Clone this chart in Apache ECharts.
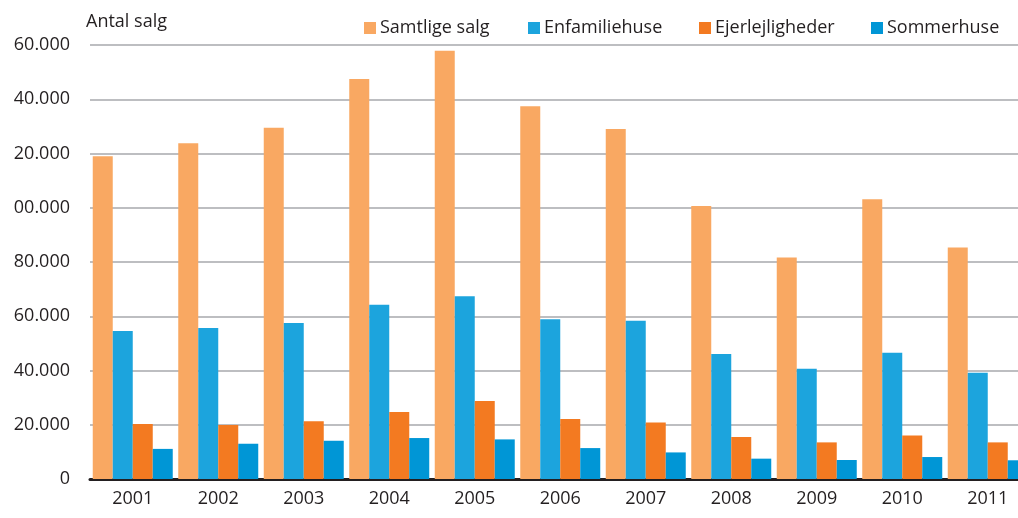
<!DOCTYPE html>
<html>
<head>
<meta charset="utf-8">
<script src="https://cdn.jsdelivr.net/npm/echarts@6/dist/echarts.min.js"></script>
<style>html,body{margin:0;padding:0;background:#fff;}#c{width:1018px;height:518px;}</style>
</head>
<body>
<div id="c"></div>
<script>
const categories = ['2001','2002','2003','2004','2005','2006','2007','2008','2009','2010','2011'];
const seriesNames = ['Samtlige salg','Enfamiliehuse','Ejerlejligheder','Sommerhuse'];
const samtligeSalg   = [119000,123800,129500,147500,157900,137400,129000,100600,81700,103100,85300];
const enfamiliehuse  = [54600,55700,57500,64200,67400,58900,58300,46100,40600,46500,39200];
const ejerlejligheder= [20300,19900,21300,24700,28800,22100,20800,15500,13500,16000,13500];
const sommerhuse     = [11100,13000,14100,15100,14600,11400,9800,7500,7000,8100,6900];
const yTickLabels = ['0','20.000','40.000','60.000','80.000','00.000','20.000','40.000','60.000'];
const yAxisTitle = 'Antal salg';

const colors = ['#F9A862','#1CA4DD','#F37A21','#0096D6'];
const font = 'Open Sans';
const textColor = '#231F20';
const values = [samtligeSalg, enfamiliehuse, ejerlejligheder, sommerhuse];
const legendLeft = [359, 523, 694, 866];

const chart = echarts.init(document.getElementById('c'));
chart.setOption({
  animation: false,
  color: colors,
  textStyle: {fontFamily: font, color: textColor},
  grid: {left: 90, width: 940.5, top: 45, bottom: 39, containLabel: false, outerBoundsMode: 'none'},
  legend: seriesNames.map((n, i) => ({
    data: [n], left: legendLeft[i], top: 14, itemWidth: 12, itemHeight: 12, itemGap: 6,
    icon: 'rect', textStyle: {fontFamily: font, fontSize: 18, color: textColor, padding: [0,0,0,-1]},
    selectedMode: false
  })),
  graphic: [{type: 'text', left: 86, top: 13, style: {text: yAxisTitle, font: '18px "' + font + '"', fill: textColor}}],
  xAxis: {
    type: 'category', data: categories,
    axisLine: {lineStyle: {color: '#231F20', width: 3}},
    axisTick: {show: false},
    axisLabel: {fontFamily: font, fontSize: 18, color: textColor, margin: 11}
  },
  yAxis: {
    type: 'value', min: 0, max: 160000, interval: 20000,
    axisLine: {show: false}, axisTick: {show: false},
    splitLine: {lineStyle: {color: '#A7A9AC', width: 1.5}},
    axisLabel: {fontFamily: font, fontSize: 18, color: textColor, margin: 20,
      formatter: v => yTickLabels[Math.round(v / 20000)]}
  },
  series: seriesNames.map((n, i) => ({
    name: n, type: 'bar', data: values[i], barWidth: 20, barGap: '0%', barCategoryGap: '6.4%',
    itemStyle: {color: colors[i]}
  }))
});
</script>
</body>
</html>
